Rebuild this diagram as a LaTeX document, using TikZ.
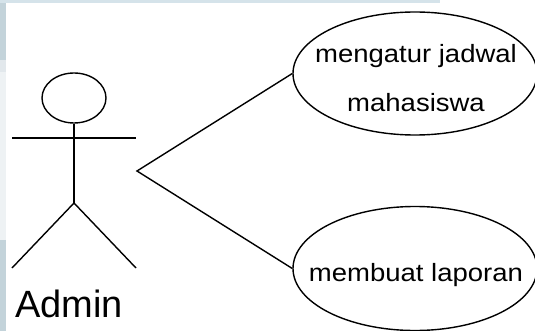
\documentclass[tikz,border=0pt]{standalone}
\usepackage{fontspec}
\setmainfont{Liberation Sans}
\usetikzlibrary{shapes.geometric}
\definecolor{stripdark}{HTML}{C3D3DA}
\definecolor{striplight}{HTML}{E2E8EC}
\definecolor{stripfaint}{HTML}{EEF2F4}
\definecolor{stripblue}{HTML}{D5E3EA}
\tikzset{
  ln/.style={line width=1.4pt, black},
  usecase/.style={ellipse, draw, line width=1.4pt, minimum width=244pt, minimum height=123pt, inner sep=0pt},
  uctext/.style={inner sep=0pt, align=center, font=\fontsize{25}{49}\selectfont},
  actorhead/.style={ellipse, draw, line width=1.4pt, minimum width=64pt, minimum height=50pt, inner sep=0pt},
  actorlabel/.style={inner sep=0pt, font=\fontsize{38}{40}\selectfont}
}
\begin{document}
\begin{tikzpicture}[x=1pt,y=-1pt]
\useasboundingbox (0,0) rectangle (535,331);
\fill[white] (0,0) rectangle (535,331);
% screenshot edge stripes
\fill[stripblue] (0,0) rectangle (440,3);
\fill[stripdark] (0,3) rectangle (6,60);
\fill[striplight] (0,60) rectangle (6,72);
\fill[stripfaint] (0,72) rectangle (6,240);
\fill[stripdark] (0,240) rectangle (6,331);
% actor
\node[actorhead] (head) at (74,98) {};
\coordinate (neck) at (74,123);
\coordinate (hip) at (74,203);
\coordinate (armL) at (12,138);
\coordinate (armR) at (136,138);
\coordinate (footL) at (12,268);
\coordinate (footR) at (136,268);
\draw[ln] (head.south) -- (hip);
\draw[ln] (armL) -- (armR);
\draw[ln] (footL) -- (hip) -- (footR);
\node[actorlabel, anchor=base west] (admin) at (15,317) {Admin};
% use cases
\node[usecase] (uc1) at (415,73.5) {};
\node[uctext] (t1) at (416,78) {\scalebox{1.1}[1]{mengatur jadwal}\\\scalebox{1.1}[1]{mahasiswa}};
\node[usecase, minimum height=124pt] (uc2) at (415,268.5) {};
\node[uctext, anchor=base] (t2) at (416,281.7) {\scalebox{1.1}[1]{membuat laporan}};
% connectors
\coordinate (v) at (137,171);
\draw[ln] (uc1.west) -- (v) -- (uc2.west);
\end{tikzpicture}
\end{document}
